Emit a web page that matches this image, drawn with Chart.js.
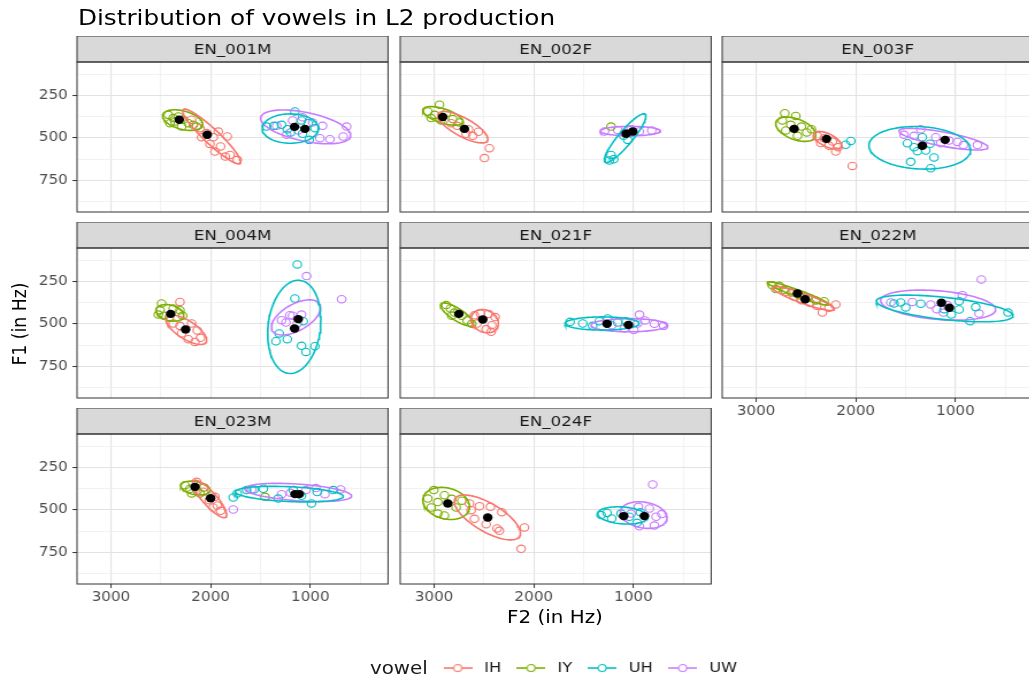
<!DOCTYPE html>
<html><head><meta charset="utf-8">
<script src="https://cdn.jsdelivr.net/npm/chart.js@4.4.1/dist/chart.umd.min.js"></script>
<style>
html,body{margin:0;padding:0;background:#fff;overflow:hidden;width:1029px;height:683px;}
#wrap{position:absolute;left:0;top:0;width:895px;height:683px;overflow:visible;transform:scaleX(1.15);transform-origin:0 0;font-family:"DejaVu Sans";}
#wrap canvas{position:absolute;}
.txt{position:absolute;white-space:nowrap;line-height:1;color:#000;font-family:"DejaVu Sans";}
</style></head><body><div id="wrap">
<div class="txt" style="left:67.8px;top:7px;font-size:21.5px;">Distribution of vowels in L2 production</div>
<div class="txt" style="left:17.4px;top:324px;font-size:17.3px;transform:translate(-50%,-50%) rotate(-90deg);">F1 (in Hz)</div>
<div class="txt" style="left:482.6px;top:609px;font-size:17.3px;transform:translateX(-50%);">F2 (in Hz)</div>
<div class="txt" style="left:321.7px;top:659.7px;font-size:17.3px;color:#1a1a1a;">vowel</div>
</div>
<script>
// ---------------- data (F2 Hz, F1 Hz) ----------------
const speakers = ['EN_001M','EN_002F','EN_003F','EN_004M','EN_021F','EN_022M','EN_023M','EN_024F'];
const vowels = ['IH','IY','UH','UW'];
const xTickValues = [1000, 2000, 3000];
const xMinorValues = [500, 1500, 2500];
const yTickValues = [250, 500, 750];
const yMinorValues = [125, 375, 625, 875];

const EN_001M_IH = [[2191,392],[2107,442],[2040,471],[1973,495],[1923,462],[1833,491],[2007,535],[1900,550],[1957,580],[1806,600],[1733,629],[1853,610],[2091,495]];
const EN_001M_IY = [[2425,363],[2375,382],[2324,372],[2274,392],[2224,412],[2174,422],[2408,412],[2291,432],[2141,432],[2358,402]];
const EN_001M_UH = [[1439,432],[1365,428],[1288,422],[1231,448],[1155,343],[1088,396],[1021,412],[1011,511],[1198,467],[1078,475],[954,442]];
const EN_001M_UW = [[1338,428],[1178,396],[1078,377],[977,408],[904,501],[803,507],[670,491],[877,428],[1121,456],[636,432],[1238,481]];
const EN_001M_means = [[2034,481],[2315,392],[1158,434],[1054,446]];
const EN_001M_ellipses = [[1990,491,291,162,-0.93],[2281,394,201,61,-0.4],[1201,444,281,87,0],[1047,434,451,100,-0.5]];

const EN_002F_IH = [[2612,487],[2655,448],[2769,428],[2555,463],[2829,412],[2445,560],[2495,619],[2679,475]];
const EN_002F_IY = [[2946,303],[3063,343],[2996,363],[2879,353],[2813,388],[2746,408],[3030,382],[2930,396],[1225,432]];
const EN_002F_UH = [[1225,600],[1198,625],[1241,633],[1058,511],[1098,487],[1024,471]];
const EN_002F_UW = [[1291,461],[1158,452],[1024,448],[941,461],[817,455],[1091,471]];
const EN_002F_means = [[2696,446],[2913,376],[1074,475],[1007,461]];
const EN_002F_ellipses = [[2712,436,251,93,-0.75],[2913,369,201,55,-0.6],[1084,501,208,144,0.9],[1031,459,301,28,0]];

const EN_003F_IH = [[2385,487],[2318,501],[2234,521],[2177,554],[2201,580],[2351,530],[2268,546],[2034,665]];
const EN_003F_IY = [[2712,353],[2602,369],[2736,396],[2652,422],[2545,432],[2702,455],[2492,467],[2585,487],[2445,448]];
const EN_003F_UH = [[2101,540],[2050,517],[1482,531],[1415,554],[1382,578],[1298,574],[1215,615],[1449,641],[1248,679],[1332,495],[1255,534]];
const EN_003F_UW = [[1516,481],[1348,448],[1415,487],[1198,495],[1064,515],[981,523],[920,542],[780,542],[1148,531]];
const EN_003F_means = [[2294,505],[2619,446],[1332,546],[1104,511]];
const EN_003F_ellipses = [[2284,513,140,52,-0.6],[2602,448,201,72,-0.45],[1358,558,510,126,-0.1],[1121,507,446,64,-0.75]];

const EN_004M_IH = [[2308,369],[2375,497],[2308,511],[2191,497],[2134,538],[2101,582],[2224,590],[2157,606],[2291,556]];
const EN_004M_IY = [[2492,378],[2508,418],[2468,451],[2525,444],[2375,408],[2308,418],[2281,451],[2415,463]];
const EN_004M_UH = [[1131,147],[1155,349],[1312,556],[1231,590],[1345,602],[1088,629],[1044,665],[954,631],[1071,483]];
const EN_004M_UW = [[1038,216],[686,353],[1288,477],[1245,491],[1178,451],[1131,497],[1205,448],[1088,444]];
const EN_004M_means = [[2251,532],[2401,440],[1158,527],[1121,471]];
const EN_004M_ellipses = [[2244,534,204,87,-0.7],[2408,434,140,49,-0.3],[1161,517,267,276,0.15],[1144,461,246,104,0.55]];

const EN_021F_IH = [[2595,448],[2535,438],[2455,440],[2388,459],[2421,507],[2478,530],[2428,546],[2569,497]];
const EN_021F_IY = [[2879,388],[2836,408],[2796,432],[2722,451],[2669,479],[2622,499],[2823,451]];
const EN_021F_UH = [[1636,487],[1509,497],[1409,511],[1342,483],[1258,467],[1158,491],[1074,483]];
const EN_021F_UW = [[940,444],[957,497],[884,479],[790,499],[697,511],[1091,527],[997,536],[1218,507]];
const EN_021F_means = [[2512,473],[2752,440],[1265,499],[1051,505]];
const EN_021F_ellipses = [[2492,483,137,69,-0.2],[2769,444,167,69,-0.8],[1315,497,372,39,0],[1044,507,381,39,0]];

const EN_022M_IH = [[2702,309],[2619,339],[2545,359],[2458,376],[2391,392],[2335,432],[2268,404],[2201,384]];
const EN_022M_IY = [[2836,270],[2769,274],[2803,293],[2719,299],[2645,313],[2569,329],[2485,345],[2401,361],[2318,365]];
const EN_022M_UH = [[1616,378],[1549,372],[1499,402],[1348,380],[1114,412],[1041,444],[964,414],[854,483],[797,400],[473,432],[964,365]];
const EN_022M_UW = [[1649,372],[1432,369],[1248,384],[1188,412],[1081,388],[931,329],[763,438],[740,236],[1121,432]];
const EN_022M_means = [[2508,353],[2585,319],[1061,404],[1141,374]];
const EN_022M_ellipses = [[2525,349,309,71,-0.9],[2579,319,309,69,-0.95],[1108,408,686,79,-0.55],[1174,388,577,89,-0.3]];

const EN_023M_IH = [[2141,333],[2074,392],[2014,442],[1957,422],[1933,473],[1900,505],[1974,485]];
const EN_023M_IY = [[2258,353],[2208,374],[2134,386],[2067,366],[2191,402],[2107,402],[1455,422]];
const EN_023M_UH = [[1773,426],[1733,402],[1639,382],[1566,378],[1472,374],[1322,432],[1171,382],[1088,416],[988,461],[931,394],[770,382]];
const EN_023M_UW = [[1773,497],[1589,378],[1288,406],[1198,398],[1044,382],[944,370],[854,406],[696,378]];
const EN_023M_means = [[2000,430],[2157,363],[1154,406],[1111,406]];
const EN_023M_ellipses = [[2010,434,171,111,-0.85],[2154,370,147,41,-0.3],[1211,406,542,46,-0.3],[1121,396,535,54,-0.4]];

const EN_024F_IH = [[2629,501],[2545,477],[2435,481],[2321,513],[2595,552],[2478,584],[2368,609],[2345,623],[2094,603],[2127,730],[2645,461]];
const EN_024F_IY = [[3003,382],[3063,432],[3030,485],[2963,521],[2896,412],[2823,434],[2779,485],[2722,445],[2896,532],[2963,453]];
const EN_024F_UH = [[1325,530],[1265,517],[1218,550],[1124,521],[1041,540],[964,576],[931,513]];
const EN_024F_UW = [[807,349],[1024,521],[950,481],[840,491],[773,540],[790,592],[941,596],[716,524]];
const EN_024F_means = [[2462,544],[2863,461],[1098,536],[890,536]];
const EN_024F_ellipses = [[2465,544,331,133,-0.7],[2879,461,234,95,-0.2],[1108,532,251,51,-0.2],[897,530,234,79,-0.2]];

// tables built from the arrays above
const tokenTable = {
  EN_001M:[EN_001M_IH,EN_001M_IY,EN_001M_UH,EN_001M_UW], EN_002F:[EN_002F_IH,EN_002F_IY,EN_002F_UH,EN_002F_UW],
  EN_003F:[EN_003F_IH,EN_003F_IY,EN_003F_UH,EN_003F_UW], EN_004M:[EN_004M_IH,EN_004M_IY,EN_004M_UH,EN_004M_UW],
  EN_021F:[EN_021F_IH,EN_021F_IY,EN_021F_UH,EN_021F_UW], EN_022M:[EN_022M_IH,EN_022M_IY,EN_022M_UH,EN_022M_UW],
  EN_023M:[EN_023M_IH,EN_023M_IY,EN_023M_UH,EN_023M_UW], EN_024F:[EN_024F_IH,EN_024F_IY,EN_024F_UH,EN_024F_UW]
};
const meanTable = {EN_001M:EN_001M_means,EN_002F:EN_002F_means,EN_003F:EN_003F_means,EN_004M:EN_004M_means,EN_021F:EN_021F_means,EN_022M:EN_022M_means,EN_023M:EN_023M_means,EN_024F:EN_024F_means};
const ellipseTable = {EN_001M:EN_001M_ellipses,EN_002F:EN_002F_ellipses,EN_003F:EN_003F_ellipses,EN_004M:EN_004M_ellipses,EN_021F:EN_021F_ellipses,EN_022M:EN_022M_ellipses,EN_023M:EN_023M_ellipses,EN_024F:EN_024F_ellipses};

// ---------------- styles / layout ----------------
const vowelColors = ['#F8766D','#7CAE00','#00BFC4','#C77CFF'];
const FONT = 'DejaVu Sans';
const S = 1.15;               // horizontal stretch of the reference
const colLeft = [77, 400, 722];
const rowTop = [36, 222, 408];
const STRIP = 26, PH = 150, PW = 311 / S, ML = 42, MB = 26;
const CW = 317;
const PADR = CW - ML - PW;

function ellipsePts(e) {
  const [cx, cy, hx, hy, r] = e;
  const k = Math.sqrt(1 - r * r);
  const out = [];
  for (let i = 0; i <= 90; i++) {
    const t = i / 90 * 2 * Math.PI;
    out.push({x: cx + hx * Math.cos(t), y: cy + hy * (r * Math.cos(t) + k * Math.sin(t))});
  }
  return out;
}

const panelDeco = {
  id: 'panelDeco',
  beforeDraw(chart) {
    const {ctx, chartArea: a} = chart;
    ctx.save();
    ctx.fillStyle = '#D9D9D9';
    ctx.fillRect(a.left, a.top - STRIP, a.right - a.left, STRIP);
    ctx.restore();
  },
  afterDraw(chart, args, opts) {
    const {ctx, chartArea: a} = chart;
    ctx.save();
    ctx.strokeStyle = '#333333';
    ctx.lineWidth = 1;
    ctx.strokeRect(a.left, a.top, a.right - a.left, a.bottom - a.top);
    ctx.strokeRect(a.left, a.top - STRIP, a.right - a.left, STRIP);
    ctx.fillStyle = '#1A1A1A';
    ctx.font = '14.5px "DejaVu Sans"';
    ctx.textAlign = 'center';
    ctx.textBaseline = 'middle';
    ctx.fillText(opts.label, (a.left + a.right) / 2, a.top - STRIP / 2 + 1);
    ctx.restore();
  }
};

const wrap = document.getElementById('wrap');
const xGrid = [...xMinorValues, ...xTickValues].sort((a, b) => a - b);
const yGrid = [...yMinorValues, ...yTickValues].sort((a, b) => a - b);

speakers.forEach((sp, i) => {
  const row = Math.floor(i / 3), col = i % 3;
  const showY = col === 0;
  const showX = i >= 5;
  const cv = document.createElement('canvas');
  cv.width = CW; cv.height = STRIP + PH + MB;
  cv.style.left = (colLeft[col] / S - ML) + 'px';
  cv.style.top = rowTop[row] + 'px';
  cv.style.width = CW + 'px'; cv.style.height = (STRIP + PH + MB) + 'px';
  wrap.appendChild(cv);

  const datasets = [];
  vowels.forEach((v, k) => {
    datasets.push({
      label: v + ' tokens', data: tokenTable[sp][k].map(([x, y]) => ({x, y})),
      pointStyle: 'circle', pointRadius: 3.7, pointBorderWidth: 1.1,
      borderColor: vowelColors[k], backgroundColor: 'rgba(0,0,0,0)', pointBackgroundColor: 'rgba(0,0,0,0)',
      showLine: false, order: 3
    });
    datasets.push({
      label: v + ' ellipse', data: ellipsePts(ellipseTable[sp][k]),
      showLine: true, pointRadius: 0, borderColor: vowelColors[k], borderWidth: 1.6,
      backgroundColor: 'rgba(0,0,0,0)', fill: false, tension: 0, order: 2
    });
  });
  datasets.push({
    label: 'means', data: meanTable[sp].map(([x, y]) => ({x, y})),
    pointStyle: 'circle', pointRadius: 4.2, backgroundColor: '#000', borderColor: '#000', borderWidth: 0,
    showLine: false, order: 1
  });

  const isMajX = v => xTickValues.includes(v);
  const isMajY = v => yTickValues.includes(v);

  new Chart(cv, {
    type: 'scatter',
    data: {datasets},
    plugins: [panelDeco],
    options: {
      responsive: false, animation: false, events: [],
      layout: {autoPadding: false, padding: {top: STRIP, right: PADR, bottom: 0, left: 0}},
      plugins: {legend: {display: false}, tooltip: {enabled: false}, panelDeco: {label: sp}},
      scales: {
        x: {
          type: 'linear', reverse: true, min: 220, max: 3340,
          afterBuildTicks: s => { s.ticks = xGrid.map(v => ({value: v})); },
          afterFit: s => { s.height = MB; },
          border: {display: false},
          grid: {
            color: c => (c.tick && isMajX(c.tick.value)) ? '#E2E2E2' : '#EFEFEF',
            lineWidth: c => (c.tick && isMajX(c.tick.value)) ? 1.1 : 0.8,
            drawTicks: true, tickLength: 4, tickWidth: 1,
            tickColor: c => (showX && c.tick && isMajX(c.tick.value)) ? '#333333' : 'rgba(0,0,0,0)'
          },
          ticks: {
            autoSkip: false, maxRotation: 0, minRotation: 0, padding: 2,
            color: '#4D4D4D', font: {family: FONT, size: 13.2},
            callback: v => (showX && isMajX(v)) ? String(v) : ''
          }
        },
        y: {
          type: 'linear', reverse: true, min: 50, max: 938,
          afterBuildTicks: s => { s.ticks = yGrid.map(v => ({value: v})); },
          afterFit: s => { s.width = ML; },
          border: {display: false},
          grid: {
            color: c => (c.tick && isMajY(c.tick.value)) ? '#E2E2E2' : '#EFEFEF',
            lineWidth: c => (c.tick && isMajY(c.tick.value)) ? 1.1 : 0.8,
            drawTicks: true, tickLength: 4, tickWidth: 1,
            tickColor: c => (showY && c.tick && isMajY(c.tick.value)) ? '#333333' : 'rgba(0,0,0,0)'
          },
          ticks: {
            autoSkip: false, padding: 4,
            color: '#4D4D4D', font: {family: FONT, size: 13.2},
            callback: v => (showY && isMajY(v)) ? String(v) : ''
          }
        }
      }
    }
  });
});

// ---------------- legend ----------------
function keyImage(color) {
  const c = document.createElement('canvas');
  c.width = 25; c.height = 12;
  const g = c.getContext('2d');
  g.strokeStyle = color; g.lineWidth = 1.6;
  g.beginPath(); g.moveTo(0, 6); g.lineTo(25, 6); g.stroke();
  g.lineWidth = 1.1;
  g.beginPath(); g.arc(12.5, 6, 3.5, 0, 2 * Math.PI); g.fillStyle = '#fff'; g.fill(); g.stroke();
  return c;
}
const lg = document.createElement('canvas');
lg.width = 400; lg.height = 120;
lg.style.left = '371.7px'; lg.style.top = '651px';
lg.style.width = '400px'; lg.style.height = '120px';
wrap.appendChild(lg);
new Chart(lg, {
  type: 'scatter',
  data: {datasets: vowels.map((v, k) => ({label: v, data: [], pointStyle: keyImage(vowelColors[k]), borderColor: vowelColors[k], backgroundColor: 'rgba(0,0,0,0)'}))},
  options: {
    responsive: false, animation: false, events: [],
    layout: {padding: 0},
    scales: {x: {display: false}, y: {display: false}},
    plugins: {
      tooltip: {enabled: false},
      legend: {
        display: true, position: 'top', align: 'start',
        labels: {usePointStyle: true, pointStyleWidth: 32, padding: 10, color: '#1A1A1A', font: {family: FONT, size: 14.1}}
      }
    }
  }
});
</script>
</body></html>
